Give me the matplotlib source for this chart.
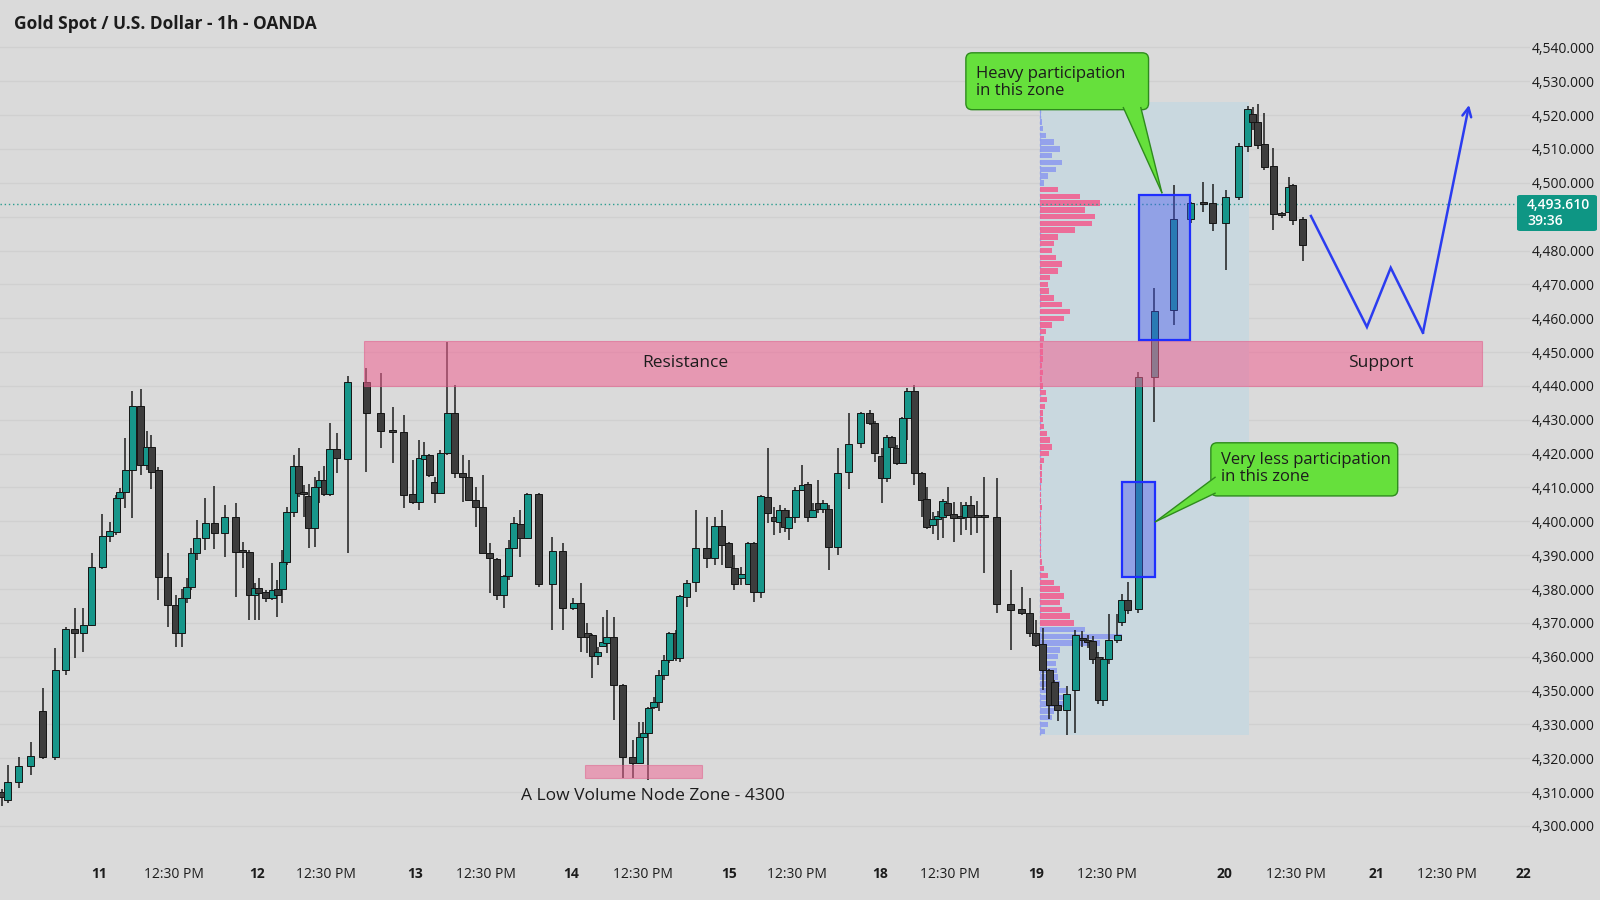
import numpy as np
import matplotlib
matplotlib.use("Agg")
import matplotlib.pyplot as plt
from matplotlib.patches import Rectangle, FancyBboxPatch, Polygon

plt.rcParams['font.family'] = ['Open Sans', 'DejaVu Sans']

# ---------------- data ----------------
title = "Gold Spot / U.S. Dollar - 1h - OANDA"

# bar time in hours from the left edge of the chart
bar_time = [0.3, 1.1, 2.7, 4.4, 6.1, 7.9, 9.4, 10.7, 11.9, 13.1, 14.6, 15.7, 16.6, 17.1, 17.9, 18.9,
            20.1, 21.0, 21.6, 22.6, 24.0, 25.1, 26.0, 26.7, 27.3, 28.1, 29.3, 30.6, 32.1, 33.7, 34.7,
            35.6, 36.4, 37.0, 38.0, 38.9, 39.6, 40.3, 41.0, 42.0, 42.7, 43.4, 44.1, 45.0, 45.6, 46.3,
            47.1, 48.1, 49.7, 52.3, 54.4, 56.1, 57.7, 59.0, 59.9, 60.6, 61.3, 62.1, 62.9, 63.9, 65.0,
            66.1, 67.0, 68.0, 69.0, 70.0, 71.0, 72.0, 72.7, 73.4, 74.3, 75.3, 77.0, 78.9, 80.4, 81.9,
            83.0, 83.9, 84.6, 85.4, 86.1, 86.7, 87.7, 89.0, 90.4, 91.3, 91.9, 92.6, 93.4, 94.1, 94.9,
            95.6, 96.6, 97.1, 98.1, 99.4, 101.0, 102.1, 103.1, 104.1, 104.9, 105.9, 106.9, 107.7,
            108.7, 109.7, 110.6, 111.4, 112.1, 112.7, 113.6, 114.6, 115.4, 116.1, 116.9, 117.6, 118.4,
            119.7, 121.3, 123.0, 124.3, 125.0, 126.0, 126.7, 127.4, 128.1, 128.9, 129.6, 130.6, 131.7,
            132.4, 133.3, 134.0, 134.7, 135.4, 136.3, 137.3, 138.0, 138.7, 139.6, 140.6, 142.4, 144.4,
            146.0, 147.1, 148.0, 149.0, 149.9, 150.6, 151.1, 152.4, 153.6, 154.6, 155.4, 156.1, 156.9,
            157.6, 158.4, 159.6, 160.3, 161.1, 162.6, 164.9, 167.7, 170.1, 171.9, 173.3, 175.1, 177.0,
            178.3, 179.0, 179.7, 180.6, 181.9, 183.1, 184.1, 184.7, 186.1]

opens = [4320.0, 4317.7, 4323.0, 4327.8, 4344.1, 4330.5, 4356.1, 4368.2, 4367.0, 4369.4, 4386.5, 4395.7,
         4396.9, 4406.9, 4408.7, 4415.2, 4434.1, 4416.7, 4422.0, 4415.2, 4383.6, 4375.3, 4367.0, 4377.4,
         4380.7, 4390.7, 4395.1, 4399.5, 4396.6, 4401.3, 4391.0, 4391.0, 4378.2, 4380.3, 4379.1, 4377.4,
         4380.0, 4380.0, 4388.0, 4402.8, 4416.4, 4408.8, 4407.5, 4398.0, 4410.2, 4412.3, 4408.1, 4421.4,
         4418.4, 4441.2, 4432.1, 4427.0, 4426.4, 4408.1, 4405.7, 4418.4, 4419.6, 4411.7, 4408.4, 4420.1,
         4432.1, 4414.3, 4413.1, 4406.3, 4404.3, 4390.7, 4388.9, 4378.2, 4383.9, 4392.1, 4399.2, 4395.1,
         4408.1, 4381.5, 4391.3, 4374.4, 4375.9, 4367.0, 4366.4, 4360.2, 4363.2, 4364.1, 4365.8, 4351.7,
         4330.4, 4328.7, 4336.3, 4337.5, 4345.2, 4346.7, 4354.7, 4359.1, 4367.0, 4359.6, 4377.7, 4382.1,
         4392.1, 4389.2, 4398.6, 4393.6, 4386.2, 4383.3, 4381.5, 4393.6, 4379.1, 4407.2, 4401.3, 4399.8,
         4403.4, 4398.0, 4401.3, 4409.3, 4411.1, 4401.3, 4405.4, 4403.7, 4403.7, 4392.4, 4414.6, 4423.1,
         4432.1, 4429.1, 4419.3, 4412.8, 4425.0, 4421.7, 4417.3, 4430.6, 4438.5, 4414.3, 4406.6, 4398.9,
         4400.7, 4401.3, 4405.4, 4402.2, 4401.6, 4401.3, 4404.8, 4401.4, 4401.4, 4401.3, 4375.6, 4374.1,
         4373.0, 4367.0, 4363.8, 4356.1, 4352.5, 4345.8, 4344.3, 4350.3, 4365.5, 4365.0, 4364.7, 4360.0,
         4347.3, 4359.4, 4365.0, 4370.3, 4376.8, 4374.1, 4442.6, 4462.4, 4489.3, 4494.0, 4494.0, 4488.1,
         4495.8, 4510.9, 4520.4, 4518.0, 4511.5, 4505.0, 4491.1, 4491.4, 4499.4, 4489.3]

highs = [4321.0, 4328.0, 4330.5, 4334.9, 4350.8, 4362.6, 4368.8, 4374.4, 4374.4, 4390.7, 4402.2, 4399.9,
         4407.8, 4409.9, 4424.6, 4438.5, 4439.1, 4426.7, 4425.5, 4416.0, 4390.7, 4378.2, 4380.0, 4383.3,
         4392.1, 4400.4, 4406.9, 4410.5, 4404.8, 4405.4, 4393.9, 4391.6, 4381.8, 4383.3, 4379.7, 4387.7,
         4382.7, 4391.6, 4404.3, 4419.6, 4421.7, 4410.8, 4411.1, 4413.2, 4414.9, 4416.4, 4429.1, 4426.1,
         4443.0, 4445.4, 4443.9, 4433.8, 4431.4, 4418.1, 4424.0, 4423.4, 4420.0, 4413.2, 4421.1, 4453.0,
         4440.4, 4419.6, 4418.1, 4410.2, 4413.7, 4393.6, 4389.2, 4384.0, 4394.5, 4401.3, 4403.4, 4408.5,
         4408.5, 4395.4, 4393.6, 4377.4, 4381.8, 4370.0, 4366.8, 4362.9, 4371.7, 4373.8, 4371.7, 4352.0,
         4335.4, 4340.8, 4340.8, 4345.2, 4348.2, 4356.1, 4360.5, 4367.3, 4367.9, 4378.2, 4382.7, 4403.4,
         4401.3, 4401.3, 4403.4, 4394.0, 4390.1, 4386.5, 4393.9, 4394.0, 4407.8, 4421.7, 4404.3, 4404.8,
         4403.8, 4403.4, 4410.2, 4416.7, 4411.7, 4405.4, 4412.3, 4406.3, 4404.8, 4421.7, 4432.1, 4432.4,
         4433.0, 4429.5, 4421.7, 4425.5, 4425.3, 4422.6, 4430.9, 4439.4, 4440.3, 4414.6, 4410.2, 4402.8,
         4403.0, 4406.5, 4410.2, 4405.7, 4405.7, 4405.7, 4407.5, 4406.0, 4413.1, 4412.8, 4385.6, 4380.6,
         4377.4, 4370.9, 4368.5, 4356.5, 4353.0, 4346.2, 4351.4, 4367.9, 4367.5, 4366.5, 4366.0, 4361.5,
         4360.0, 4372.6, 4372.6, 4378.6, 4382.0, 4444.0, 4469.0, 4499.4, 4494.4, 4500.3, 4499.7, 4497.9,
         4511.8, 4522.7, 4522.4, 4523.3, 4520.6, 4510.3, 4491.5, 4501.7, 4499.5, 4490.0]

lows = [4316.0, 4316.8, 4321.3, 4325.0, 4329.8, 4329.5, 4354.6, 4359.6, 4361.4, 4369.0, 4386.0, 4394.0,
        4396.0, 4401.9, 4404.0, 4401.0, 4413.7, 4415.2, 4409.6, 4376.8, 4368.8, 4363.0, 4363.0, 4375.9,
        4379.7, 4388.6, 4391.6, 4391.9, 4389.5, 4377.7, 4386.2, 4370.9, 4370.9, 4370.9, 4376.2, 4376.8,
        4371.7, 4375.9, 4387.1, 4401.3, 4407.2, 4401.3, 4392.0, 4392.4, 4405.4, 4407.5, 4407.5, 4414.3,
        4390.7, 4414.6, 4421.7, 4417.3, 4404.0, 4405.0, 4403.4, 4418.0, 4413.2, 4405.4, 4408.0, 4419.5,
        4412.8, 4405.7, 4406.0, 4398.3, 4390.5, 4378.8, 4376.8, 4374.4, 4382.7, 4391.8, 4389.5, 4394.8,
        4380.6, 4367.9, 4367.9, 4373.8, 4361.4, 4361.1, 4353.7, 4357.6, 4362.9, 4361.1, 4341.4, 4324.2,
        4324.2, 4328.4, 4335.9, 4323.6, 4344.5, 4344.0, 4353.2, 4358.2, 4358.8, 4358.5, 4374.7, 4379.1,
        4386.2, 4387.1, 4387.1, 4386.2, 4379.7, 4381.2, 4381.2, 4376.2, 4377.4, 4399.5, 4396.0, 4396.6,
        4396.9, 4394.5, 4399.5, 4409.0, 4399.8, 4401.0, 4402.5, 4402.5, 4385.6, 4390.1, 4409.6, 4421.7,
        4428.5, 4417.5, 4405.4, 4411.6, 4421.8, 4416.7, 4417.0, 4424.0, 4410.8, 4401.3, 4397.7, 4396.3,
        4394.5, 4395.1, 4401.5, 4393.9, 4396.0, 4397.4, 4396.0, 4396.5, 4384.7, 4373.0, 4362.0, 4372.3,
        4365.8, 4362.9, 4350.2, 4341.5, 4345.5, 4341.0, 4337.0, 4337.5, 4363.0, 4362.5, 4358.0, 4346.0,
        4345.5, 4358.0, 4364.0, 4369.0, 4372.5, 4373.0, 4429.4, 4458.0, 4488.0, 4491.4, 4485.8, 4474.3,
        4495.0, 4509.1, 4515.6, 4510.0, 4503.8, 4486.1, 4489.5, 4491.0, 4487.5, 4477.0]

closes = [4318.5, 4323.0, 4327.6, 4330.7, 4330.5, 4356.1, 4368.2, 4367.0, 4369.4, 4386.5, 4395.7, 4397.2,
          4406.9, 4408.7, 4415.2, 4434.1, 4416.7, 4422.0, 4414.6, 4383.6, 4375.3, 4367.0, 4377.4, 4380.7,
          4390.7, 4395.1, 4399.5, 4396.6, 4401.3, 4391.0, 4390.8, 4378.2, 4380.3, 4378.8, 4377.4, 4379.7,
          4378.2, 4388.0, 4402.8, 4416.4, 4408.4, 4408.2, 4398.0, 4410.2, 4412.3, 4408.1, 4421.4, 4418.7,
          4441.2, 4432.1, 4426.7, 4426.4, 4407.8, 4405.7, 4418.7, 4419.6, 4413.7, 4408.4, 4420.1, 4432.1,
          4414.3, 4413.1, 4406.3, 4404.3, 4390.7, 4389.2, 4378.2, 4383.9, 4392.1, 4399.5, 4395.1, 4408.1,
          4381.5, 4391.3, 4374.4, 4375.9, 4365.8, 4365.8, 4360.2, 4361.4, 4364.4, 4365.8, 4351.7, 4330.4,
          4328.7, 4336.3, 4337.5, 4344.9, 4346.7, 4354.7, 4359.1, 4367.0, 4359.6, 4377.9, 4381.8, 4392.1,
          4389.2, 4398.6, 4393.0, 4386.5, 4381.5, 4384.4, 4393.6, 4379.1, 4407.5, 4402.5, 4400.1, 4403.4,
          4398.3, 4401.3, 4409.3, 4410.8, 4401.3, 4403.4, 4403.7, 4405.4, 4392.4, 4414.3, 4422.9, 4432.1,
          4429.1, 4420.3, 4412.8, 4425.0, 4422.0, 4417.3, 4430.6, 4438.5, 4414.3, 4406.3, 4398.3, 4400.7,
          4401.6, 4406.0, 4401.9, 4401.0, 4401.0, 4404.8, 4401.3, 4401.2, 4401.2, 4375.6, 4373.8, 4373.0,
          4367.0, 4363.5, 4356.1, 4345.8, 4345.8, 4344.3, 4349.0, 4366.5, 4364.8, 4364.3, 4359.4, 4347.3,
          4359.4, 4365.0, 4366.5, 4376.8, 4373.8, 4442.6, 4462.1, 4489.3, 4494.0, 4493.6, 4488.1, 4495.8,
          4510.9, 4521.8, 4518.0, 4511.2, 4504.7, 4490.8, 4490.5, 4498.8, 4489.0, 4481.6]

last_price = 4493.61
last_price_text = ["4,493.610", "39:36"]

# x axis labels (time in hours, same axis as bar_time)
time_tick_pos = [14.1, 24.9, 36.7, 46.6, 59.3, 69.4, 81.6, 91.9, 104.1, 113.9, 125.7, 135.7,
                 148.0, 158.1, 174.9, 185.1, 196.6, 206.7, 217.7]
time_tick_labels = ["11", "12:30 PM", "12", "12:30 PM", "13", "12:30 PM", "14", "12:30 PM",
                    "15", "12:30 PM", "18", "12:30 PM", "19", "12:30 PM", "20", "12:30 PM",
                    "21", "12:30 PM", "22"]

# price axis: evenly spaced rows, labelled as printed in the picture
price_rows = [4540, 4530, 4520, 4510, 4500, 4490, 4480, 4470, 4460, 4450, 4440, 4430, 4420, 4410,
              4400, 4390, 4380, 4370, 4360, 4350, 4340, 4330, 4320, 4310]
price_row_labels = ["4,540.000", "4,530.000", "4,520.000", "4,510.000", "4,500.000", "",
                    "4,480.000", "4,470.000", "4,460.000", "4,450.000", "4,440.000", "4,430.000",
                    "4,420.000", "4,410.000", "4,400.000", "4,390.000", "4,380.000", "4,370.000",
                    "4,360.000", "4,350.000", "4,330.000", "4,320.000", "4,310.000", "4,300.000"]

# visible-range volume profile (session of the 19th)
profile_start = 148.6
profile_end = 178.4
profile_top = 4524.0
profile_bottom = 4337.0
profile_levels = list(range(4522, 4337, -2))
profile_volume = [1, 1, 2, 3, 6, 14, 20, 12, 22, 16, 8, 4,
                  18, 40, 60, 45, 55, 52, 35, 18, 14, 12, 16, 22, 18, 10, 8, 9, 14, 22, 30, 24,
                  12, 6, 4, 3, 3, 3, 2, 3, 2, 3, 6, 7, 5, 3, 3, 4, 7, 10, 12, 9, 4, 2, 2, 2,
                  1, 1, 1, 2, 1, 1, 1, 1, 1, 1, 1, 2, 4, 8, 14, 20, 24, 20, 22, 30, 34,
                  45, 82, 60, 20, 18, 16, 17, 18, 20, 26, 29, 24, 14, 12, 8, 5]
profile_blue_above = 4500
profile_blue_below = 4368

# zones and annotations
resistance_zone = (52.0, 211.7, 4440.0, 4453.3)        # t0, t1, low, high
lvn_zone = (83.6, 100.3, 4324.2, 4328.0)
heavy_box = (162.7, 170.0, 4453.6, 4496.4)
thin_box = (160.3, 165.0, 4383.6, 4411.7)
projection_t = [187.3, 195.3, 198.7, 203.3, 209.9]
projection_p = [4490.2, 4457.4, 4474.9, 4455.7, 4523.0]

# ---------------- style ----------------
BG = "#dadada"
GRID = "#d0d0d0"
UP = "#17968a"
DOWN = "#3d3d3d"
EDGE = "#151515"
PINK = "#f06292"
GREEN = "#66e03c"
GREEN_EDGE = "#2e8b1d"
BLUE_LINE = "#2b3cf0"
TXT = "#1c1c1c"

W, H = 1600, 900
fig = plt.figure(figsize=(16, 9), dpi=100)
fig.patch.set_facecolor(BG)
ax_bottom_px = 848
ax_right_px = 1530
ax = fig.add_axes([0, 1 - ax_bottom_px / H, ax_right_px / W, ax_bottom_px / H])
ax.set_facecolor(BG)
ax.set_xlim(0, 218.6)
ax.set_ylim(4303.5, 4554.0)
for s in ax.spines.values():
    s.set_visible(False)

# grid / ticks
ax.yaxis.tick_right()
ax.set_yticks(price_rows)
ax.set_yticklabels(price_row_labels, fontsize=10, color=TXT)
ax.set_xticks(time_tick_pos)
ax.set_xticklabels(time_tick_labels, fontsize=10, color=TXT)
for lab in ax.get_xticklabels():
    if ":" not in lab.get_text():
        lab.set_fontweight("bold")
ax.tick_params(axis="both", length=0)
ax.tick_params(axis="y", pad=1)
ax.tick_params(axis="x", pad=14)
ax.grid(axis="y", color=GRID, lw=0.9, zorder=0)
ax.set_axisbelow(True)

# volume profile background + bars
ax.add_patch(Rectangle((profile_start, profile_bottom), profile_end - profile_start,
                       profile_top - profile_bottom, facecolor="#c9d8df", edgecolor="none", zorder=1))
ax.plot([profile_start, profile_start], [profile_bottom, profile_top], color="#8ea4e6",
        lw=1.0, ls=(0, (2, 2)), zorder=1.5)
prof_colors = ["#8f9cee" if (lv >= profile_blue_above or lv <= profile_blue_below) else PINK
               for lv in profile_levels]
ax.barh(profile_levels, np.array(profile_volume) / 7.0, left=profile_start, height=1.6,
        color=prof_colors, edgecolor="none", alpha=0.9, zorder=2)

# last price line
ax.axhline(last_price, color="#2a9d8f", lw=1.0, ls=(0, (1, 2)), zorder=2.5)

# candles
o = np.array(opens); c = np.array(closes); hi = np.array(highs); lo = np.array(lows)
t = np.array(bar_time)
up = c >= o
ax.vlines(t, lo, hi, color="#1e1e1e", lw=1.1, zorder=3)
body_lo = np.minimum(o, c)
body_h = np.maximum(np.abs(c - o), 0.6)
ax.bar(t, body_h, bottom=body_lo, width=1.0, color=np.where(up, UP, DOWN),
       edgecolor=EDGE, linewidth=0.7, zorder=4)

# zones
r0, r1, rl, rh = resistance_zone
ax.add_patch(Rectangle((r0, rl), r1 - r0, rh - rl, facecolor=PINK, alpha=0.55,
                       edgecolor="#e05a88", lw=0.8, zorder=5))
ax.text(97.9, (rl + rh) / 2, "Resistance", fontsize=12.5, color=TXT, ha="center", va="center",
        fontweight="medium", zorder=9)
ax.text(197.3, (rl + rh) / 2, "Support", fontsize=12.5, color=TXT, ha="center", va="center",
        fontweight="medium", zorder=9)

l0, l1, ll, lh = lvn_zone
ax.add_patch(Rectangle((l0, ll), l1 - l0, lh - ll, facecolor=PINK, alpha=0.5,
                       edgecolor="#e05a88", lw=0.8, zorder=5))
ax.text(93.3, 4318.8, "A Low Volume Node Zone - 4300", fontsize=12.5, color=TXT,
        ha="center", va="center", fontweight="medium", zorder=9)

for (b0, b1, bl, bh) in (heavy_box, thin_box):
    ax.add_patch(Rectangle((b0, bl), b1 - b0, bh - bl, facecolor="#4455f0", alpha=0.42,
                           edgecolor="none", zorder=6))
    ax.add_patch(Rectangle((b0, bl), b1 - b0, bh - bl, facecolor="none",
                           edgecolor="#1f2fff", lw=1.6, zorder=6.5))

# callouts
px_per_x = ax_right_px / 218.6
px_per_y = ax_bottom_px / (4554.0 - 4303.5)


def callout(x0, x1, y0, y1, tri, lines, tx, ty):
    box = FancyBboxPatch((x0, y0), x1 - x0, y1 - y0,
                         boxstyle="round,pad=0,rounding_size=0.9",
                         mutation_aspect=px_per_x / px_per_y,
                         facecolor=GREEN, edgecolor=GREEN_EDGE, lw=1.0, zorder=8)
    ax.add_patch(box)
    ax.add_patch(Polygon(tri, closed=True, facecolor=GREEN, edgecolor="none", zorder=8.1))
    ax.plot([tri[0][0], tri[2][0]], [tri[0][1], tri[2][1]], color=GREEN_EDGE, lw=1.0, zorder=8.2)
    ax.plot([tri[1][0], tri[2][0]], [tri[1][1], tri[2][1]], color=GREEN_EDGE, lw=1.0, zorder=8.2)
    ax.text(tx, ty, "\n".join(lines), fontsize=12, color=TXT, ha="left", va="center",
            linespacing=1.05, fontweight="medium", zorder=9)


callout(138.0, 164.1, 4521.6, 4538.4,
        [(160.5, 4522.2), (163.0, 4522.2), (166.0, 4497.1)],
        ["Heavy participation", "in this zone"], 139.4, 4529.6)
callout(173.0, 199.7, 4407.5, 4423.2,
        [(173.6, 4413.0), (173.6, 4408.3), (165.1, 4399.9)],
        ["Very less participation", "in this zone"], 174.4, 4415.6)

# projected path
ax.plot(projection_t[:-1], projection_p[:-1], color=BLUE_LINE, lw=1.8, zorder=7,
        solid_joinstyle="miter")
ax.annotate("", xy=(projection_t[-1], projection_p[-1]), xytext=(projection_t[-2], projection_p[-2]),
            arrowprops=dict(arrowstyle="->", color=BLUE_LINE, lw=1.8, mutation_scale=16,
                            shrinkA=0, shrinkB=0), zorder=7)

# title
fig.text(14 / W, 1 - 24 / H, title, fontsize=12.5, fontweight="bold", color=TXT,
         ha="left", va="center")

# last price badge
bx0, bx1, by0, by1 = 1517, 1597, 195, 231
fig.patches.append(FancyBboxPatch((bx0 / W, 1 - by1 / H), (bx1 - bx0) / W, (by1 - by0) / H,
                                  boxstyle="round,pad=0,rounding_size=0.002",
                                  transform=fig.transFigure, facecolor="#0e9684",
                                  edgecolor="none", zorder=10))
fig.text(1527 / W, 1 - 205 / H, last_price_text[0], fontsize=10, color="white",
         ha="left", va="center", fontweight="semibold", zorder=11)
fig.text(1527 / W, 1 - 221 / H, last_price_text[1], fontsize=10, color="white",
         ha="left", va="center", fontweight="semibold", zorder=11)

fig.savefig("out.png", dpi=100, facecolor=BG)
